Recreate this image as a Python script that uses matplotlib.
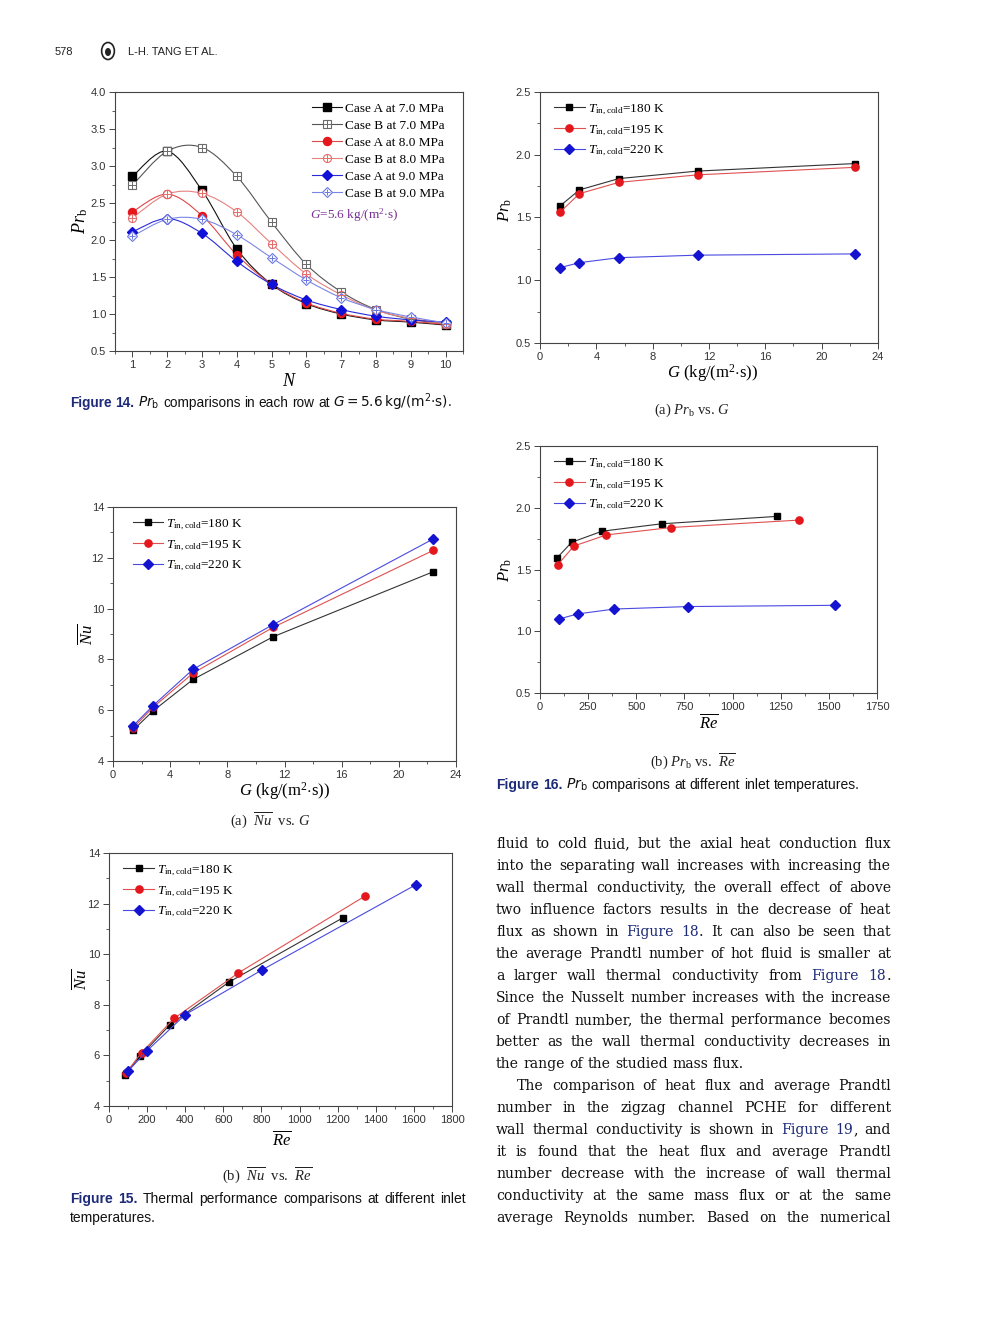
"""
Page 578 of L-H. Tang et al.: Figures 14, 15 and 16 with the text column.
"""

import re

import matplotlib
matplotlib.use("Agg")
from matplotlib import pyplot as plt
from matplotlib.lines import Line2D
from matplotlib.path import Path
from matplotlib.patches import PathPatch, Circle
from matplotlib.legend_handler import HandlerTuple
from matplotlib.ticker import MultipleLocator
import numpy as np

plt.rcParams["font.family"] = ["Liberation Sans", "DejaVu Sans"]
plt.rcParams["mathtext.fontset"] = "custom"
plt.rcParams["mathtext.rm"] = "Liberation Serif"
plt.rcParams["mathtext.it"] = "Liberation Serif:italic"
plt.rcParams["mathtext.bf"] = "Liberation Serif:bold"

# Figure 14: Pr_b in each row N at G = 5.6 kg/(m2 s)
rows = [1, 2, 3, 4, 5, 6, 7, 8, 9, 10]
pr_a70 = [2.86, 3.20, 2.67, 1.88, 1.40, 1.14, 1.00, 0.92, 0.89, 0.85]
pr_b70 = [2.74, 3.20, 3.25, 2.86, 2.24, 1.67, 1.30, 1.06, 0.93, 0.87]
pr_a80 = [2.38, 2.62, 2.33, 1.80, 1.40, 1.15, 1.01, 0.93, 0.90, 0.86]
pr_b80 = [2.30, 2.62, 2.63, 2.38, 1.95, 1.54, 1.26, 1.05, 0.94, 0.87]
pr_a90 = [2.11, 2.29, 2.09, 1.71, 1.40, 1.19, 1.06, 0.97, 0.92, 0.89]
pr_b90 = [2.05, 2.28, 2.28, 2.07, 1.76, 1.46, 1.22, 1.06, 0.96, 0.88]
case_labels = ["Case A at 7.0 MPa", "Case B at 7.0 MPa", "Case A at 8.0 MPa",
               "Case B at 8.0 MPa", "Case A at 9.0 MPa", "Case B at 9.0 MPa"]

# Figures 15 and 16: inlet temperatures of the cold fluid
mass_flux = [1.4, 2.8, 5.6, 11.2, 22.4]
pr_180 = [1.59, 1.72, 1.81, 1.87, 1.93]
pr_195 = [1.54, 1.69, 1.78, 1.84, 1.90]
pr_220 = [1.10, 1.14, 1.18, 1.20, 1.21]
re16_180 = [86, 164, 322, 631, 1231]
re16_195 = [93, 176, 344, 681, 1345]
re16_220 = [100, 195, 386, 770, 1534]
nu_180 = [5.21, 5.97, 7.21, 8.89, 11.45]
nu_195 = [5.30, 6.11, 7.46, 9.26, 12.29]
nu_220 = [5.38, 6.18, 7.61, 9.37, 12.74]
re15_180 = [84, 163, 320, 628, 1230]
re15_195 = [88, 171, 341, 679, 1342]
re15_220 = [100, 199, 400, 801, 1609]
temp_labels = [r"$T_{\rm in,cold}$=180 K", r"$T_{\rm in,cold}$=195 K", r"$T_{\rm in,cold}$=220 K"]

body_lines = [
    "fluid to cold fluid, but the axial heat conduction flux",
    "into the separating wall increases with increasing the",
    "wall thermal conductivity, the overall effect of above",
    "two influence factors results in the decrease of heat",
    "flux as shown in {Figure} {18}. It can also be seen that",
    "the average Prandtl number of hot fluid is smaller at",
    "a larger wall thermal conductivity from {Figure} {18}.",
    "Since the Nusselt number increases with the increase",
    "of Prandtl number, the thermal performance becomes",
    "better as the wall thermal conductivity decreases in",
    "the range of the studied mass flux.",
    "The comparison of heat flux and average Prandtl",
    "number in the zigzag channel PCHE for different",
    "wall thermal conductivity is shown in {Figure} {19}, and",
    "it is found that the heat flux and average Prandtl",
    "number decrease with the increase of wall thermal",
    "conductivity at the same mass flux or at the same",
    "average Reynolds number. Based on the numerical",
]

W, H = 990, 1320
LINK = "#1c2a78"
SERIF = "Liberation Serif"
BODY = "DejaVu Serif"

fig = plt.figure(figsize=(W / 100, H / 100), dpi=100)
renderer = fig.canvas.get_renderer()


def px_axes(left, right, top, bottom):
    return fig.add_axes([left / W, 1 - bottom / H, (right - left) / W, (bottom - top) / H])


def style(ax, xmaj, xmin, ymaj, ymin):
    for s in ax.spines.values():
        s.set_color("#444444")
        s.set_linewidth(0.8)
    ax.tick_params(which="both", direction="out", top=False, right=False,
                   colors="#444444", labelsize=8, labelcolor="#333333")
    ax.tick_params(which="major", length=4, width=0.7, pad=2.5)
    ax.tick_params(which="minor", length=2.2, width=0.6)
    ax.xaxis.set_major_locator(MultipleLocator(xmaj))
    ax.xaxis.set_minor_locator(MultipleLocator(xmin))
    ax.yaxis.set_major_locator(MultipleLocator(ymaj))
    ax.yaxis.set_minor_locator(MultipleLocator(ymin))


def smooth_path(xs, ys):
    pts = np.column_stack([xs, ys]).astype(float)
    ext = np.vstack([pts[0], pts, pts[-1]])
    verts = [pts[0]]
    codes = [Path.MOVETO]
    for i in range(len(pts) - 1):
        p0, p1, p2, p3 = ext[i], ext[i + 1], ext[i + 2], ext[i + 3]
        verts += [p1 + (p2 - p0) / 6, p2 - (p3 - p1) / 6, p2]
        codes += [Path.CURVE4] * 3
    return Path(verts, codes)


def measure(txt, **kw):
    t = fig.text(0, 0, txt, **kw)
    w = t.get_window_extent(renderer).width
    t.remove()
    return w


def put_line(x, y, words, width=None, size=11.5, family=SERIF):
    # words: list of lists of (text, color, weight, math_fontfamily)
    while True:
        widths = []
        for word in words:
            ws = []
            for txt, color, weight, mff in word:
                ws.append(measure(txt, size=size, family=family, weight=weight,
                                  math_fontfamily=mff))
            widths.append(ws)
        total = sum(sum(ws) for ws in widths)
        space = measure("n n", size=size, family=family) - measure("nn", size=size, family=family)
        if width is None or len(words) < 2:
            gap = space
            break
        gap = (width - total) / (len(words) - 1)
        if gap >= 0.7 * space:
            break
        size -= 0.1
    cx = x
    for word, ws in zip(words, widths):
        for (txt, color, weight, mff), w in zip(word, ws):
            fig.text(cx / W, 1 - y / H, txt, size=size, family=family, color=color,
                     weight=weight, math_fontfamily=mff, va="baseline", ha="left")
            cx += w
        cx += gap


def parse_body(line):
    words = []
    for raw in line.split(" "):
        segs = []
        for part in re.split(r"(\{[^}]*\})", raw):
            if not part:
                continue
            if part.startswith("{"):
                segs.append((part[1:-1], LINK, "normal", "dejavusans"))
            else:
                segs.append((part, "#111111", "normal", "dejavusans"))
        words.append(segs)
    return words


def caption_words(text, label):
    words = [[(label.split(" ")[0], LINK, "bold", "dejavusans")],
             [(label.split(" ")[1], LINK, "bold", "dejavusans")]]
    for raw in text.split(" "):
        if raw:
            words.append([(raw, "#111111", "normal", "dejavusans")])
    return words


# ---------------- Figure 14 ----------------
ax14 = px_axes(115, 463, 92, 351)
style(ax14, 1, 0.5, 0.5, 0.25)
ax14.set_xlim(0.5, 10.5)
ax14.set_ylim(0.5, 4.0)

specs14 = [
    (pr_a70, "#111111", "#000000", "s", True),
    (pr_b70, "#555555", "#6a6a6a", "s", False),
    (pr_a80, "#e04848", "#e3171c", "o", True),
    (pr_b80, "#e88080", "#e86a6a", "o", False),
    (pr_a90, "#2a2ad8", "#1010d8", "D", True),
    (pr_b90, "#7a86e4", "#6a78e4", "D", False),
]
handles14 = []
for vals, lc, mc, mk, filled in specs14:
    ax14.add_patch(PathPatch(smooth_path(rows, vals), fill=False, edgecolor=lc, lw=0.8, zorder=2))
    ms = 5.8 if mk != "D" else 5.2
    if filled:
        ax14.plot(rows, vals, ls="none", marker=mk, ms=ms, mfc=mc, mec=mc, zorder=3)
        handles14.append(Line2D([], [], color=lc, lw=0.8, marker=mk, ms=ms, mfc=mc, mec=mc))
    else:
        ax14.plot(rows, vals, ls="none", marker=mk, ms=ms, mfc="white", mec=mc, mew=0.8, zorder=3)
        ax14.plot(rows, vals, ls="none", marker="+", ms=ms * 0.9, mec=mc, mew=0.7, zorder=4)
        handles14.append((Line2D([], [], color=lc, lw=0.8, marker=mk, ms=ms, mfc="white", mec=mc, mew=0.8),
                          Line2D([], [], ls="none", marker="+", ms=ms * 0.9, mec=mc, mew=0.7)))
ax14.legend(handles14, case_labels, loc="upper right", bbox_to_anchor=(0.975, 0.995),
            frameon=False, prop={"family": SERIF, "size": 9.5}, handlelength=2.3,
            handletextpad=0.25, labelspacing=0.36, borderpad=0.2,
            handler_map={tuple: HandlerTuple(ndivide=1)})
ax14.text(0.56, 0.525, r"$G$=5.6 kg/(m$^2$$\cdot$s)", transform=ax14.transAxes,
          color="#7a2f96", family=SERIF, size=9.5, ha="left", va="center")
ax14.set_ylabel(r"$Pr_{\rm b}$", size=13, va="center")
ax14.yaxis.set_label_coords(-0.10, 0.5)
ax14.set_xlabel(r"$N$", size=13, va="center")
ax14.xaxis.set_label_coords(0.5, -0.116)


def temp_plot(ax, xs_list, ys_list, anchor):
    colors = ["#000000", "#e3171c", "#1414d0"]
    lines = ["#333333", "#e05050", "#4a4ae0"]
    marks = [("s", 5.0), ("o", 5.2), ("D", 5.2)]
    handles = []
    for xs, ys, c, lc, (mk, ms) in zip(xs_list, ys_list, colors, lines, marks):
        h, = ax.plot(xs, ys, color=lc, lw=0.8, marker=mk, ms=ms, mfc=c, mec=c)
        handles.append(h)
    ax.legend(handles, temp_labels, loc="upper left", bbox_to_anchor=anchor, frameon=False,
              prop={"family": SERIF, "size": 9.5}, handlelength=2.3, handletextpad=0.25,
              labelspacing=0.5, borderpad=0.2)


# ---------------- Figure 16 (a) ----------------
ax16a = px_axes(540, 878, 92, 343)
style(ax16a, 4, 2, 0.5, 0.25)
ax16a.set_xlim(0, 24)
ax16a.set_ylim(0.5, 2.5)
temp_plot(ax16a, [mass_flux] * 3, [pr_180, pr_195, pr_220], (0.015, 0.995))
ax16a.set_ylabel(r"$Pr_{\rm b}$", size=12, va="center")
ax16a.yaxis.set_label_coords(-0.104, 0.53)
ax16a.set_xlabel(r"$G$ (kg/(m$^2$$\cdot$s))", size=12, family=SERIF, va="center")
ax16a.xaxis.set_label_coords(0.51, -0.12)

# ---------------- Figure 16 (b) ----------------
ax16b = px_axes(540, 877, 446, 693)
style(ax16b, 250, 125, 0.5, 0.25)
ax16b.set_xlim(0, 1750)
ax16b.set_ylim(0.5, 2.5)
temp_plot(ax16b, [re16_180, re16_195, re16_220], [pr_180, pr_195, pr_220], (0.015, 0.995))
ax16b.set_ylabel(r"$Pr_{\rm b}$", size=12, va="center")
ax16b.yaxis.set_label_coords(-0.104, 0.5)
ax16b.set_xlabel(r"$\overline{Re}$", size=12, va="center")
ax16b.xaxis.set_label_coords(0.5, -0.115)

# ---------------- Figure 15 (a) ----------------
ax15a = px_axes(113, 456, 507, 761)
style(ax15a, 4, 2, 2, 1)
ax15a.set_xlim(0, 24)
ax15a.set_ylim(4, 14)
temp_plot(ax15a, [mass_flux] * 3, [nu_180, nu_195, nu_220], (0.03, 0.995))
ax15a.set_ylabel(r"$\overline{Nu}$", size=12, va="center")
ax15a.yaxis.set_label_coords(-0.079, 0.5)
ax15a.set_xlabel(r"$G$ (kg/(m$^2$$\cdot$s))", size=12, family=SERIF, va="center")
ax15a.xaxis.set_label_coords(0.5, -0.12)

# ---------------- Figure 15 (b) ----------------
ax15b = px_axes(109, 452, 853, 1106)
style(ax15b, 200, 100, 2, 1)
ax15b.set_xlim(0, 1800)
ax15b.set_ylim(4, 14)
temp_plot(ax15b, [re15_180, re15_195, re15_220], [nu_180, nu_195, nu_220], (0.015, 0.995))
ax15b.set_ylabel(r"$\overline{Nu}$", size=12, va="center")
ax15b.yaxis.set_label_coords(-0.085, 0.5)
ax15b.set_xlabel(r"$\overline{Re}$", size=12, va="center")
ax15b.xaxis.set_label_coords(0.504, -0.13)

# ---------------- sub captions ----------------
sub_kw = dict(family=SERIF, size=10.5, ha="center", va="center", color="#222222")
fig.text(692 / W, 1 - 410 / H, r"(a) $Pr_{\rm b}$ vs. $G$", **sub_kw)
fig.text(693 / W, 1 - 761 / H, r"(b) $Pr_{\rm b}$ vs.  $\overline{Re}$", **sub_kw)
fig.text(270 / W, 1 - 820 / H, r"(a)  $\overline{Nu}$  vs. $G$", **sub_kw)
fig.text(267 / W, 1 - 1175 / H, r"(b)  $\overline{Nu}$  vs.  $\overline{Re}$", **sub_kw)

# ---------------- figure captions ----------------
put_line(70, 407, caption_words("", "Figure 14.") +
         [[(w, "#111111", "normal", "dejavusans")] for w in
          [r"$Pr_\mathrm{b}$", "comparisons", "in", "each", "row", "at",
           r"$G=5.6\,\mathrm{kg/(m^2{\cdot}s)}$."]], size=9.8, family="Liberation Sans")
put_line(496, 789, caption_words("", "Figure 16.") +
         [[(w, "#111111", "normal", "dejavusans")] for w in
          [r"$Pr_\mathrm{b}$", "comparisons", "at", "different", "inlet", "temperatures."]],
         size=10, family="Liberation Sans")
put_line(70, 1203, caption_words("Thermal performance comparisons at different inlet", "Figure 15."),
         width=396, size=10, family="Liberation Sans")
put_line(70, 1222, [[("temperatures.", "#111111", "normal", "dejavusans")]],
         size=10, family="Liberation Sans")

# ---------------- body text ----------------
for i, line in enumerate(body_lines):
    y = 848 + 22 * i
    x0 = 517 if i == 11 else 496
    last = i == 10
    put_line(x0, y, parse_body(line), width=None if last else 891 - x0, size=10.1, family=BODY)

# ---------------- running head ----------------
fig.text(55 / W, 1 - 55 / H, "578", size=8, color="#222222", va="baseline")
fig.patches.append(Circle((108 / W, 1 - 51 / H), 8.5 / H, transform=fig.transFigure,
                          fill=False, ec="#222222", lw=1.2))
fig.patches.append(Circle((108 / W, 1 - 52 / H), 4 / H, transform=fig.transFigure,
                          fc="#222222", ec="none"))
fig.text(128 / W, 1 - 55 / H, "L-H. TANG ET AL.", size=8, color="#222222", va="baseline")

fig.savefig("out.png", dpi=100, facecolor="white")
